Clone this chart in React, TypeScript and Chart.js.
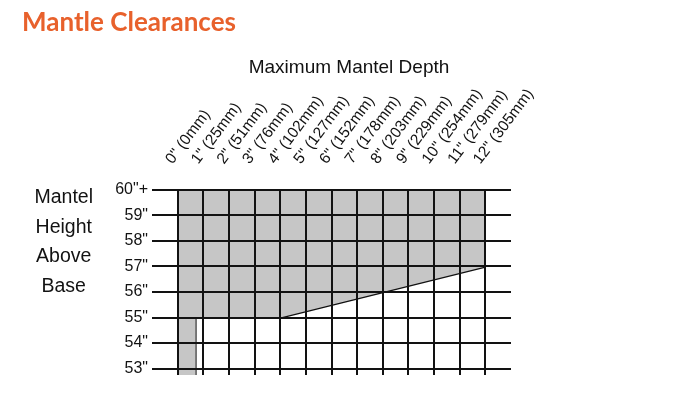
import React, { useEffect, useRef } from "react";
import { Chart, registerables } from "chart.js";

Chart.register(...registerables);

// ---- data ----
const depthTicks = [0, 1, 2, 3, 4, 5, 6, 7, 8, 9, 10, 11, 12];
const depthLabels = [
  '0" (0mm)', '1" (25mm)', '2" (51mm)', '3" (76mm)', '4" (102mm)', '5" (127mm)',
  '6" (152mm)', '7" (178mm)', '8" (203mm)', '9" (229mm)', '10" (254mm)', '11" (279mm)', '12" (305mm)',
];
const heightTicks = [53, 54, 55, 56, 57, 58, 59, 60];
const heightLabels = ['53"', '54"', '55"', '56"', '57"', '58"', '59"', '60"+'];
const sideWords = ["Base", "Above", "Height", "Mantel"];
const sideWordPositions = [56.21, 57.38, 58.52, 59.69];

// clearance (shaded) region outline: depth (in) / height (in)
const clearanceDepth = [0, 12, 12, 4, 0.7, 0.7, 0];
const clearanceHeight = [60, 60, 57, 55, 55, 52.75, 52.75];
// sloped boundary
const slopeDepth = [4, 12];
const slopeHeight = [55, 57];
// short divider in first column
const stubDepth = [0.7, 0.7];
const stubHeight = [55, 52.75];

const X_MIN = -1;
const X_MAX = 13;
const Y_MIN = 52.75;
const Y_MAX = 60;
const LABEL_SHIFT = 0.25;

const TITLE = "Mantle Clearances";
const SUBTITLE = "Maximum Mantel Depth";

const toPoints = (xs: number[], ys: number[]) => xs.map((x, i) => ({ x, y: ys[i] }));

const zeroPad = (s: any) => {
  s.paddingTop = 0;
  s.paddingBottom = 0;
  s.paddingLeft = 0;
  s.paddingRight = 0;
};

export default function App() {
  const ref = useRef<HTMLCanvasElement | null>(null);

  useEffect(() => {
    if (!ref.current) return;
    Chart.defaults.font.family = "'Liberation Sans', Arial, sans-serif";
    const ink = "#121212";
    const chart = new Chart(ref.current, {
      type: "line",
      data: {
        datasets: [
          {
            data: toPoints(clearanceDepth, clearanceHeight),
            backgroundColor: "#c6c6c6",
            borderWidth: 0,
            borderColor: "rgba(0,0,0,0)",
            pointRadius: 0,
            fill: "shape",
            tension: 0,
          },
          {
            data: toPoints(slopeDepth, slopeHeight),
            borderColor: ink,
            borderWidth: 2.5,
            pointRadius: 0,
            fill: false,
          },
          {
            data: toPoints(stubDepth, stubHeight),
            borderColor: ink,
            borderWidth: 2,
            pointRadius: 0,
            fill: false,
          },
        ],
      },
      options: {
        animation: false,
        responsive: true,
        maintainAspectRatio: false,
        events: [],
        layout: { padding: { left: 14, right: 6, top: 0, bottom: 12 } },
        plugins: {
          legend: { display: false },
          tooltip: { enabled: false },
          title: {
            display: true,
            text: TITLE,
            align: "start",
            color: "#e8612c",
            font: { family: "Lato, 'Open Sans', sans-serif", size: 26, weight: "bold", lineHeight: 1.1 },
            padding: { top: 0, bottom: 20 },
          },
          subtitle: {
            display: true,
            text: SUBTITLE,
            align: "center",
            color: ink,
            font: { size: 19, lineHeight: 1.2 },
            padding: { top: 0, bottom: 0 },
          },
        },
        scales: {
          x: {
            type: "linear",
            position: "top",
            min: X_MIN,
            max: X_MAX,
            weight: 0,
            afterBuildTicks: (axis: any) => {
              axis.ticks = depthTicks.map((v) => ({ value: v }));
            },
            afterFit: (s: any) => {
              s.height = 0;
              zeroPad(s);
            },
            ticks: { display: false },
            grid: { color: ink, lineWidth: 2, drawTicks: false, z: 1 },
            border: { display: false },
          },
          xl: {
            type: "linear",
            position: "top",
            min: X_MIN - LABEL_SHIFT,
            max: X_MAX - LABEL_SHIFT,
            weight: 1,
            afterBuildTicks: (axis: any) => {
              axis.ticks = depthTicks.map((v) => ({ value: v }));
            },
            afterFit: (s: any) => {
              s.height = 110.4;
              zeroPad(s);
            },
            ticks: {
              autoSkip: false,
              minRotation: 53,
              maxRotation: 53,
              padding: 14,
              color: ink,
              font: { size: 15.5 },
              callback: (v: any) => depthLabels[depthTicks.indexOf(Number(v))],
            },
            grid: { display: false },
            border: { display: false },
          },
          y: {
            type: "linear",
            position: "left",
            min: Y_MIN,
            max: Y_MAX,
            weight: 0,
            afterBuildTicks: (axis: any) => {
              axis.ticks = heightTicks.map((v) => ({ value: v }));
            },
            afterFit: (s: any) => {
              s.width = 42;
              zeroPad(s);
            },
            ticks: {
              padding: 4,
              color: ink,
              font: { size: 16 },
              callback: (v: any) => heightLabels[heightTicks.indexOf(Number(v))],
            },
            grid: { color: ink, lineWidth: 2, drawTicks: false, z: 1 },
            border: { display: false },
          },
          side: {
            type: "linear",
            position: "left",
            min: Y_MIN,
            max: Y_MAX,
            weight: 1,
            afterBuildTicks: (axis: any) => {
              axis.ticks = sideWordPositions.map((v) => ({ value: v }));
            },
            afterFit: (s: any) => {
              s.width = 88;
              zeroPad(s);
            },
            ticks: {
              padding: 9,
              crossAlign: "center",
              color: ink,
              font: { size: 19.5 },
              callback: (v: any) => sideWords[sideWordPositions.indexOf(Number(v))],
            },
            grid: { display: false },
            border: { display: false },
          },
          spacer: {
            type: "linear",
            position: "right",
            min: 0,
            max: 1,
            afterFit: (s: any) => {
              s.width = 165;
              zeroPad(s);
            },
            ticks: { display: false },
            grid: { display: false },
            border: { display: false },
          },
        },
      } as any,
    });
    return () => chart.destroy();
  }, []);

  return (
    <div style={{ position: "relative", width: 674, height: 379 }}>
      <canvas ref={ref} />
    </div>
  );
}
